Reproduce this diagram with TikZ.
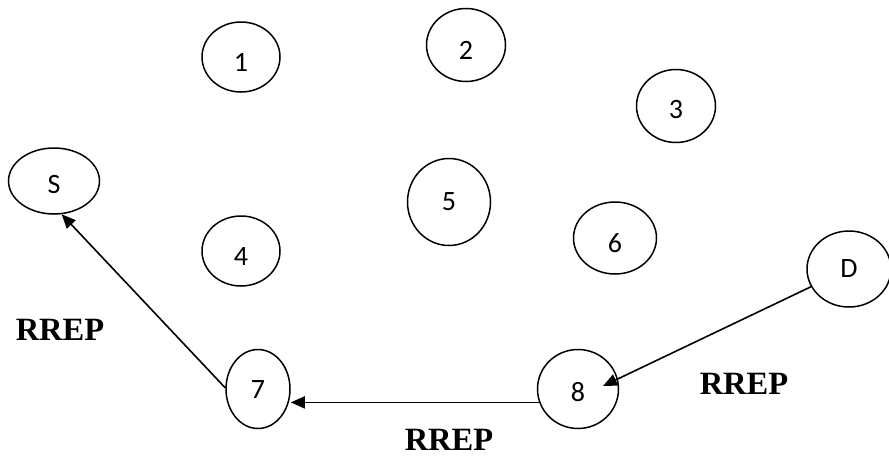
\documentclass[tikz,border=0pt]{standalone}
\usepackage{fontspec}
\setmainfont{Carlito}
\newfontfamily\labelfont{Liberation Serif}
\usetikzlibrary{shapes.geometric,arrows.meta}
% lower a node's text without changing the box used to centre it
\newcommand\lowered[2]{\raisebox{-#1pt}[\height][0pt]{#2}}
\tikzset{
  netnode/.style={draw, ellipse, line width=1.5pt, inner sep=0pt,
    font=\fontsize{28}{30}\selectfont},
  msglabel/.style={font=\labelfont\bfseries\fontsize{32.5}{34}\selectfont},
  msgarrow/.style={line width=1.6pt, -{Triangle[length=14pt,width=12pt]}}
}
\begin{document}
\begin{tikzpicture}[x=1pt,y=-1pt]
  \useasboundingbox (0,0) rectangle (889,456);
  % mobile nodes
  \node[netnode, minimum width=91pt, minimum height=66pt] (S)  at (54,181)  {\lowered{3}{S}};
  \node[netnode, minimum width=78pt, minimum height=70pt] (n1) at (241,57)  {\lowered{5.5}{1}};
  \node[netnode, minimum width=79pt, minimum height=73pt] (n2) at (466,45)  {\lowered{5.5}{2}};
  \node[netnode, minimum width=79pt, minimum height=73pt] (n3) at (676,106) {\lowered{3.5}{3}};
  \node[netnode, minimum width=78pt, minimum height=70pt] (n4) at (241,251) {\lowered{6}{4}};
  \node[netnode, minimum width=83pt, minimum height=87pt] (n5) at (449,202) {5};
  \node[netnode, minimum width=83pt, minimum height=72pt] (n6) at (615,238) {\lowered{5}{6}};
  \node[netnode, minimum width=64pt, minimum height=79pt] (n7) at (258,389) {\lowered{1}{7}};
  \node[netnode, minimum width=81pt, minimum height=79pt] (n8) at (578,389) {\lowered{2.5}{8}};
  \node[netnode, minimum width=84pt, minimum height=76pt] (D)  at (849,269) {D};
  % route reply messages
  \node[msglabel] (r1) at (60,330)  {RREP};
  \node[msglabel] (r2) at (449,440) {RREP};
  \node[msglabel] (r3) at (744,384) {RREP};
  % reverse path D -> 8 -> 7 -> S
  \draw[msgarrow] (D.205) -- ([shift={(25pt,3pt)}]n8.center);
  \draw[msgarrow] (n8.199) -- (n8.199 -| n7.east);
  \draw[msgarrow] (n7.178) -- (S.-77);
\end{tikzpicture}
\end{document}
